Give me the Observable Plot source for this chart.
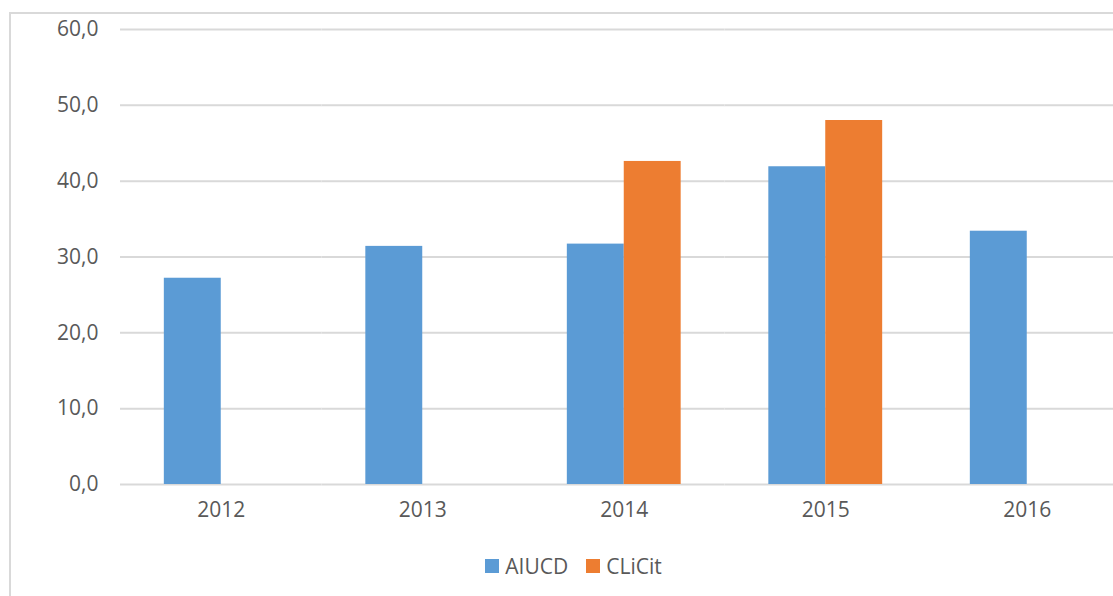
<!DOCTYPE html>
<html>
<head>
<meta charset="utf-8">
<script src="https://cdn.jsdelivr.net/npm/d3@7"></script>
<script src="https://cdn.jsdelivr.net/npm/@observablehq/plot@0.6"></script>
<style>
  html, body { margin: 0; padding: 0; background: #fff; overflow: hidden; width: 1113px; height: 596px; }
  #frame { position: absolute; left: 9px; top: 12px; width: 1200px; height: 700px; border-left: 2px solid #d9d9d9; border-top: 2px solid #d9d9d9; }
  #chart { position: absolute; left: 0; top: 0; }
  #legend { position: absolute; top: 552px; left: 17px; width: 1113px; display: flex; justify-content: center; font-family: "Open Sans", sans-serif; font-size: 21px; color: #595959; }
  .item { display: flex; align-items: center; margin: 0 9px; }
  .sw { width: 14px; height: 14px; margin-right: 6px; }
  #chart text { font-size: 21px; }
</style>
</head>
<body>
<div id="frame"></div>
<div id="chart"></div>
<div id="legend"></div>
<script>
const years = ["2012", "2013", "2014", "2015", "2016"];
const seriesNames = ["AIUCD", "CLiCit"];
const seriesColors = ["#5b9bd5", "#ed7d31"];
const aiucd = [27.2, 31.4, 31.7, 41.9, 33.4];
const clicit = [null, null, 42.6, 48.0, null];
const yTicks = [0, 10, 20, 30, 40, 50, 60];

const data = [];
years.forEach((y, i) => {
  if (aiucd[i] != null) data.push({year: y, series: "AIUCD", value: aiucd[i]});
  if (clicit[i] != null) data.push({year: y, series: "CLiCit", value: clicit[i]});
});

const W = 1113, H = 540;
const chart = Plot.plot({
  width: W,
  height: H,
  marginTop: 29,
  marginBottom: H - 484,
  marginLeft: 120,
  marginRight: -14.5,
  style: {fontFamily: "'Open Sans', sans-serif", fontSize: "21px", color: "#595959", background: "transparent", overflow: "visible"},
  fx: {domain: years, padding: 0, round: false, label: null},
  x: {domain: seriesNames, paddingInner: 0, paddingOuter: 0.77, round: false, axis: null},
  y: {domain: [0, 60], label: null},
  color: {domain: seriesNames, range: seriesColors},
  marks: [
    Plot.gridY(yTicks, {stroke: "#d9d9d9", strokeOpacity: 1, strokeWidth: 2}),
    Plot.axisY(yTicks, {tickSize: 0, tickPadding: 22, fontSize: 21, tickFormat: d => d.toFixed(1).replace(".", ","), label: null, fill: "#595959"}),
    Plot.axisFx({anchor: "bottom", tickSize: 0, tickPadding: 18, fontSize: 21, label: null, fill: "#595959"}),
    Plot.barY(data, {fx: "year", x: "series", y: "value", fill: "series", inset: 0})
  ]
});
document.getElementById("chart").appendChild(chart);

const legend = document.getElementById("legend");
seriesNames.forEach((s, i) => {
  const item = document.createElement("div");
  item.className = "item";
  const sw = document.createElement("div");
  sw.className = "sw";
  sw.style.background = seriesColors[i];
  const t = document.createElement("span");
  t.textContent = s;
  item.appendChild(sw);
  item.appendChild(t);
  legend.appendChild(item);
});
</script>
</body>
</html>
